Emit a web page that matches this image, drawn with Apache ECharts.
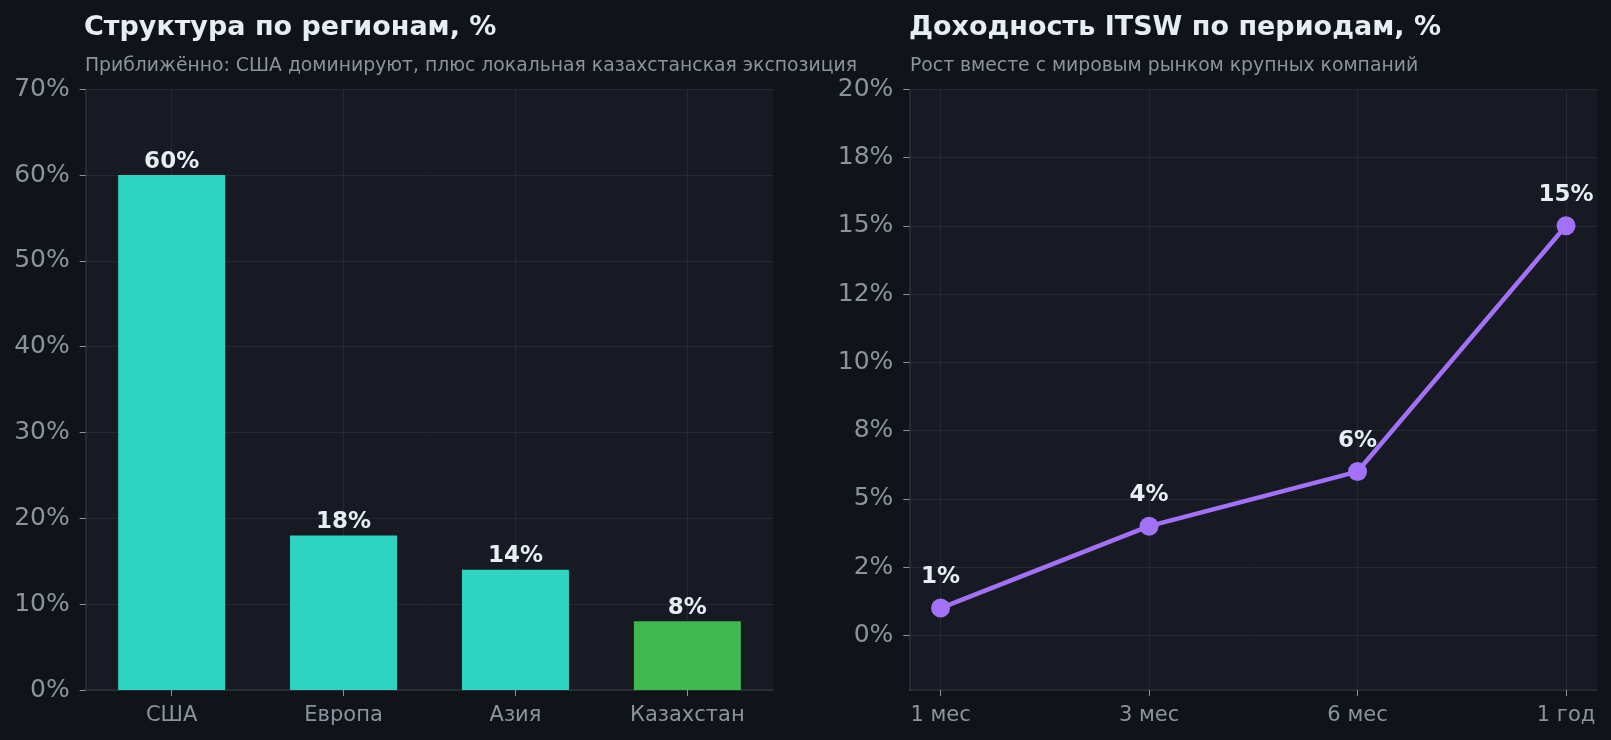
<!DOCTYPE html>
<html><head><meta charset="utf-8">
<script src="https://cdn.jsdelivr.net/npm/echarts@6/dist/echarts.min.js"></script>
<style>html,body{margin:0;padding:0;background:#101418;}#c{width:1611px;height:740px;}</style>
</head><body><div id="c"></div>
<script>
// ---- data ----
const regionCategories = ['США', 'Европа', 'Азия', 'Казахстан'];
const regionShares = [60, 18, 14, 8];
const regionYTicks = [0, 10, 20, 30, 40, 50, 60, 70];
const periodCategories = ['1 мес', '3 мес', '6 мес', '1 год'];
const periodReturns = [1, 4, 6, 15];
const returnYTicks = [0, 2.5, 5, 7.5, 10, 12.5, 15, 17.5, 20];

// ---- styles ----
const barColors = ['#2dd4bf', '#2dd4bf', '#2dd4bf', '#3fb950'];
const lineColor = '#a371f7';
const FONT = 'DejaVu Sans';
const textMain = '#e6edf3';
const textMuted = '#8b949e';
const gridLine = '#242933';
const spine = '#2c3039';
const plotBg = '#171a22';

function roundHalfEven(v) {
  const f = Math.floor(v), d = v - f;
  if (Math.abs(d - 0.5) < 1e-9) return (f % 2 === 0) ? f : f + 1;
  return Math.round(v);
}
const catIdx = regionCategories.map((_, i) => i);
const perIdx = periodCategories.map((_, i) => i);

function valueX(gridIndex, min, max, cats, idx) {
  return {
    type: 'value', gridIndex, min, max,
    axisLine: { show: true, onZero: false, lineStyle: { color: spine, width: 1.5 } },
    axisTick: { show: true, customValues: idx, length: 6, lineStyle: { color: textMuted, width: 1 } },
    axisLabel: { show: true, customValues: idx, formatter: v => cats[Math.round(v)] ?? '', color: textMuted, fontSize: 21, fontFamily: FONT, margin: 15 },
    splitLine: { show: true, lineStyle: { color: gridLine, width: 1 } }
  };
}
function valueY(gridIndex, min, max, ticks, fmt) {
  return {
    type: 'value', gridIndex, min, max,
    axisLine: { show: true, onZero: false, lineStyle: { color: spine, width: 1.5 } },
    axisTick: { show: true, customValues: ticks, length: 6, lineStyle: { color: textMuted, width: 1 } },
    axisLabel: { show: true, customValues: ticks, formatter: fmt, color: textMuted, fontSize: 25, fontFamily: FONT, margin: 16, padding: [8, 0, 0, 0] },
    splitLine: { show: true, lineStyle: { color: gridLine, width: 1 } }
  };
}

const chart = echarts.init(document.getElementById('c'), null, { renderer: 'canvas' });
chart.setOption({
  backgroundColor: '#101418',
  animation: false,
  title: [
    { text: 'Структура по регионам, %', left: 84, top: 14, padding: 0,
      textStyle: { color: textMain, fontSize: 27, fontWeight: 'bold', fontFamily: FONT } },
    { text: 'Приближённо: США доминируют, плюс локальная казахстанская экспозиция', left: 85, top: 57, padding: 0,
      textStyle: { color: textMuted, fontSize: 18.8, fontWeight: 'normal', fontFamily: FONT } },
    { text: 'Доходность ITSW по периодам, %', left: 909, top: 14, padding: 0,
      textStyle: { color: textMain, fontSize: 27, fontWeight: 'bold', fontFamily: FONT } },
    { text: 'Рост вместе с мировым рынком крупных компаний', left: 910, top: 57, padding: 0,
      textStyle: { color: textMuted, fontSize: 18.8, fontWeight: 'normal', fontFamily: FONT } }
  ],
  grid: [
    { left: 85.7, right: 837.7, top: 89.3, bottom: 50, show: true, backgroundColor: plotBg, borderWidth: 0, containLabel: false },
    { left: 909.3, right: 13.7, top: 89.3, bottom: 50, show: true, backgroundColor: plotBg, borderWidth: 0, containLabel: false }
  ],
  xAxis: [
    valueX(0, -0.5, 3.5, regionCategories, catIdx),
    valueX(1, -0.15, 3.15, periodCategories, perIdx)
  ],
  yAxis: [
    valueY(0, 0, 70, regionYTicks, v => v + '%'),
    valueY(1, -2, 20, returnYTicks, v => roundHalfEven(v) + '%')
  ],
  series: [
    {
      type: 'bar', xAxisIndex: 0, yAxisIndex: 0, barWidth: 107,
      data: regionShares.map((v, i) => ({ value: [i, v], itemStyle: { color: barColors[i] } })),
      label: { show: true, position: 'top', distance: 2, formatter: p => p.value[1] + '%',
        color: textMain, fontSize: 23, fontWeight: 'bold', fontFamily: FONT }
    },
    {
      type: 'line', xAxisIndex: 1, yAxisIndex: 1,
      data: periodReturns.map((v, i) => [i, v]),
      lineStyle: { color: lineColor, width: 4.5 },
      itemStyle: { color: lineColor },
      symbol: 'circle', symbolSize: 19, showAllSymbol: true,
      label: { show: true, position: 'top', distance: 10, formatter: p => p.value[1] + '%',
        color: textMain, fontSize: 23, fontWeight: 'bold', fontFamily: FONT }
    }
  ]
});
</script></body></html>
